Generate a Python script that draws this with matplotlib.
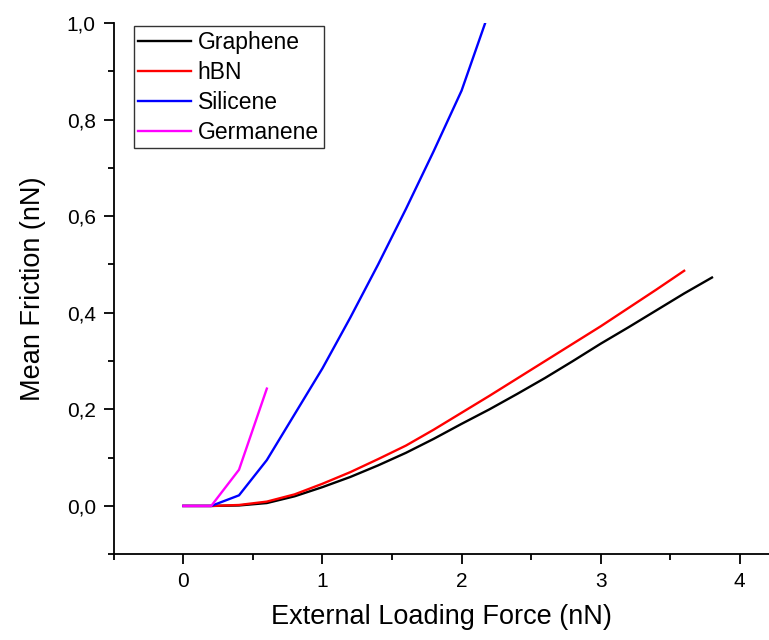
import numpy as np
import matplotlib.pyplot as plt
from matplotlib.ticker import MultipleLocator, FuncFormatter

plt.rcParams['font.family'] = ['Liberation Sans', 'DejaVu Sans']

# data
x_gr = [0, 0.2, 0.4, 0.6, 0.8, 1.0, 1.2, 1.4, 1.6, 1.8, 2.0, 2.2, 2.4, 2.6, 2.8, 3.0, 3.2, 3.4, 3.6, 3.8]
y_gr = [0, 0, 0.001, 0.006, 0.02, 0.039, 0.06, 0.084, 0.11, 0.139, 0.17, 0.2, 0.232, 0.265, 0.3, 0.336, 0.37, 0.405, 0.44, 0.473]
x_hbn = [0, 0.2, 0.4, 0.6, 0.8, 1.0, 1.2, 1.4, 1.6, 1.8, 2.0, 2.2, 2.4, 2.6, 2.8, 3.0, 3.2, 3.4, 3.6]
y_hbn = [0, 0, 0.002, 0.009, 0.024, 0.046, 0.07, 0.097, 0.125, 0.158, 0.193, 0.228, 0.264, 0.3, 0.336, 0.372, 0.41, 0.448, 0.487]
x_si = [0, 0.2, 0.4, 0.6, 0.8, 1.0, 1.2, 1.4, 1.6, 1.8, 2.0, 2.2]
y_si = [0, 0, 0.022, 0.095, 0.19, 0.285, 0.39, 0.5, 0.615, 0.735, 0.86, 1.025]
x_ge = [0, 0.2, 0.4, 0.6]
y_ge = [0, 0, 0.075, 0.243]

fig = plt.figure(figsize=(7.69, 6.4), dpi=100)
ax = fig.add_axes([0.148, 0.134, 0.852, 0.830])

lw = 1.7
ax.plot(x_gr, y_gr, color='black', lw=lw, label='Graphene')
ax.plot(x_hbn, y_hbn, color='red', lw=lw, label='hBN')
ax.plot(x_si, y_si, color='blue', lw=lw, label='Silicene')
ax.plot(x_ge, y_ge, color='magenta', lw=lw, label='Germanene')

ax.set_xlim(-0.5, 4.21)
ax.set_ylim(-0.1, 1.0)
ax.spines['top'].set_visible(False)
ax.spines['right'].set_visible(False)
ax.spines['left'].set_linewidth(1.3)
ax.spines['bottom'].set_linewidth(1.3)

ax.xaxis.set_major_locator(MultipleLocator(1))
ax.xaxis.set_minor_locator(MultipleLocator(0.5))
ax.yaxis.set_major_locator(MultipleLocator(0.2))
ax.yaxis.set_minor_locator(MultipleLocator(0.1))
ax.yaxis.set_major_formatter(FuncFormatter(lambda v, p: f"{v:.1f}".replace('.', ',').replace('-0,0', '0,0')))
ax.tick_params(which='major', length=7, width=1.3, labelsize=15, pad=6)
ax.tick_params(which='minor', length=4, width=1.3)

ax.set_xlabel('External Loading Force (nN)', fontsize=19.5, labelpad=9)
ax.set_ylabel('Mean Friction (nN)', fontsize=19.5, labelpad=15)

leg = ax.legend(loc='upper left', bbox_to_anchor=(0.025, 1.0), fontsize=16.5, frameon=True,
                fancybox=False, edgecolor='black', handlelength=2.3, handletextpad=0.3,
                labelspacing=0.3, borderpad=0.2, borderaxespad=0.15)
leg.get_frame().set_linewidth(1.0)

fig.savefig('out.png', dpi=100)
